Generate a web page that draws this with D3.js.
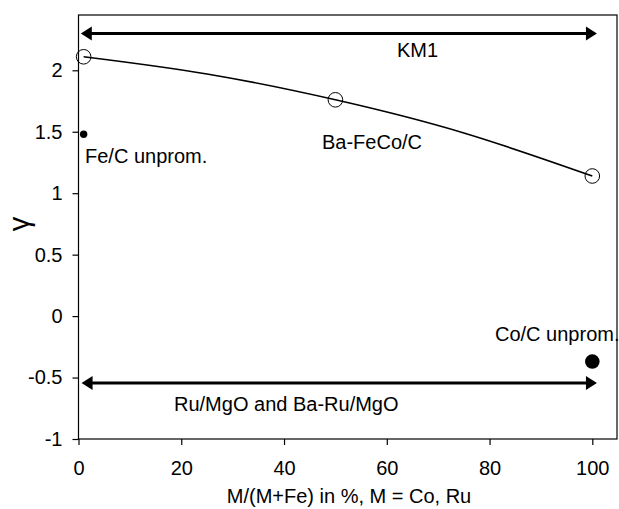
<!DOCTYPE html>
<html>
<head>
<meta charset="utf-8">
<script src="https://cdn.jsdelivr.net/npm/d3@7"></script>
<style>
  html, body { margin: 0; padding: 0; background: #fff; }
  svg { display: block; font-family: "Liberation Sans", Arial, sans-serif; }
</style>
</head>
<body>
<svg id="chart" width="619" height="509"></svg>
<script>
// Exponent gamma versus promoter metal fraction
const xTicks = [0, 20, 40, 60, 80, 100];
const yTicks = [-1, -0.5, 0, 0.5, 1, 1.5, 2];

// Ba-FeCo/C series (open circles) and its trend curve
const bafecoX = [1, 50, 100];
const bafecoY = [2.11, 1.76, 1.14];
const trendX = [1, 25, 50, 75, 100];
const trendY = [2.11, 1.97, 1.76, 1.49, 1.14];

// Unpromoted references (filled dots)
const unpromNames = ["Fe/C unprom.", "Co/C unprom."];
const unpromX = [1, 100];
const unpromY = [1.48, -0.37];
const unpromR = [3.7, 7.3];

// Ranges marked by double-headed arrows
const rangeNames = ["KM1", "Ru/MgO and Ba-Ru/MgO"];
const rangeFrom = [0.45, 0.6];
const rangeTo = [100.9, 100.9];
const rangeY = [2.3, -0.545];

const svg = d3.select("#chart");
const font = 20;

const x = d3.scaleLinear().domain([0, 105]).range([78.5, 618]);
const y = d3.scaleLinear().domain([-1, 2.45]).range([439, 15]);

// plot frame
svg.append("rect")
  .attr("x", x(0)).attr("y", y(2.45))
  .attr("width", x(105) - x(0) - 1).attr("height", y(-1) - y(2.45))
  .attr("fill", "none").attr("stroke", "#000").attr("stroke-width", 1.2);

// axes
const gx = svg.append("g").attr("transform", `translate(0,${y(-1)})`)
  .call(d3.axisBottom(x).tickValues(xTicks).tickSize(6).tickPadding(16)
    .tickFormat(d => String(d)));
const gy = svg.append("g").attr("transform", `translate(${x(0)},0)`)
  .call(d3.axisLeft(y).tickValues(yTicks).tickSize(6).tickPadding(10)
    .tickFormat(d => String(d)));
[gx, gy].forEach(g => {
  g.select(".domain").remove();
  g.selectAll(".tick line").attr("stroke", "#000").attr("stroke-width", 1.2);
  g.selectAll(".tick text").attr("fill", "#000")
    .style("font-size", font + "px")
    .style("font-family", "'Liberation Sans', Arial, sans-serif");
});

// axis titles
svg.append("text")
  .attr("x", 349).attr("y", 502.5)
  .attr("text-anchor", "middle")
  .style("font-size", font + "px")
  .text("M/(M+Fe) in %, M = Co, Ru");
svg.append("text")
  .attr("transform", "translate(28.5,224) rotate(-90)")
  .attr("text-anchor", "middle")
  .style("font-size", "29px")
  .text("γ");

// trend curve through the Ba-FeCo/C points
const trend = trendX.map((d, i) => [d, trendY[i]]);
svg.append("path")
  .datum(trend)
  .attr("fill", "none").attr("stroke", "#000").attr("stroke-width", 1.6)
  .attr("d", d3.line().x(d => x(d[0])).y(d => y(d[1])).curve(d3.curveNatural));

// open circles
svg.selectAll("circle.open")
  .data(bafecoX.map((d, i) => [d, bafecoY[i]]))
  .join("circle").attr("class", "open")
  .attr("cx", d => x(d[0])).attr("cy", d => y(d[1])).attr("r", 7.3)
  .attr("fill", "none").attr("stroke", "#000").attr("stroke-width", 1);

// filled dots
svg.selectAll("circle.filled")
  .data(unpromX.map((d, i) => ({ x: d, y: unpromY[i], r: unpromR[i] })))
  .join("circle").attr("class", "filled")
  .attr("cx", d => x(d.x)).attr("cy", d => y(d.y)).attr("r", d => d.r)
  .attr("fill", "#000");

// double-headed arrows
const headLen = 11, headHalf = 7;
rangeNames.forEach((name, i) => {
  const x1 = x(rangeFrom[i]), x2 = x(rangeTo[i]), yy = y(rangeY[i]);
  const g = svg.append("g");
  g.append("line")
    .attr("x1", x1 + headLen - 1).attr("x2", x2 - headLen + 1)
    .attr("y1", yy).attr("y2", yy)
    .attr("stroke", "#000").attr("stroke-width", 3);
  g.append("path")
    .attr("d", `M${x1},${yy}L${x1 + headLen},${yy - headHalf}L${x1 + headLen},${yy + headHalf}Z`)
    .attr("fill", "#000");
  g.append("path")
    .attr("d", `M${x2},${yy}L${x2 - headLen},${yy - headHalf}L${x2 - headLen},${yy + headHalf}Z`)
    .attr("fill", "#000");
});

// annotations
const notes = [
  { t: "KM1", x: 417.5, y: 56.5, a: "middle" },
  { t: "Ba-FeCo/C", x: 372, y: 148.5, a: "middle" },
  { t: unpromNames[0], x: 85, y: 163, a: "start" },
  { t: unpromNames[1], x: 495, y: 341, a: "start" },
  { t: "Ru/MgO and Ba-Ru/MgO", x: 174, y: 411, a: "start" }
];
svg.selectAll("text.note")
  .data(notes)
  .join("text").attr("class", "note")
  .attr("x", d => d.x).attr("y", d => d.y)
  .attr("text-anchor", d => d.a)
  .style("font-size", font + "px")
  .text(d => d.t);
</script>
</body>
</html>
